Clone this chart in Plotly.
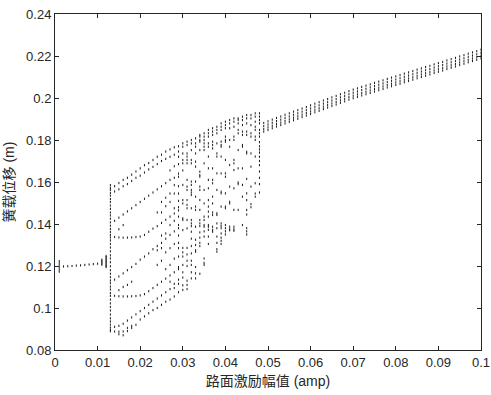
import plotly.graph_objects as go

# ---------------- data ----------------
# single-period branch before the first jump
amp_left = [0.002, 0.003, 0.004, 0.005, 0.006, 0.007, 0.008, 0.009, 0.010]
disp_left = [0.1198, 0.1199, 0.1200, 0.1202, 0.1203, 0.1205, 0.1207, 0.1209, 0.1211]

# columns with many points (transient / jump / chaotic columns)
scatter_columns = {
    0.001: [0.1173, 0.1183, 0.1193, 0.1203, 0.1213, 0.1223],
    0.011: [0.1206, 0.1212, 0.1218, 0.1224, 0.1230],
    0.012: [0.1195, 0.1200, 0.1206, 0.1212, 0.1218, 0.1224, 0.1230, 0.1236, 0.1242, 0.1248],
    0.013: [0.1585, 0.1572, 0.1562, 0.1548, 0.1535, 0.1519, 0.1505, 0.1488, 0.1472, 0.1455,
            0.1441, 0.1425, 0.1408, 0.1392, 0.1376, 0.1362, 0.1348, 0.1336, 0.1322, 0.1305,
            0.1288, 0.1270, 0.1251, 0.1236, 0.1218, 0.1199, 0.1180, 0.1163, 0.1147, 0.1131,
            0.1118, 0.1102, 0.1088, 0.1071, 0.1058, 0.1040, 0.1022, 0.1005, 0.0988, 0.0969,
            0.0951, 0.0936, 0.0921, 0.0907, 0.0896, 0.0889],
    0.029: [0.1770, 0.1745, 0.1720, 0.1685, 0.1640, 0.1625, 0.1580, 0.1545, 0.1510, 0.1480,
            0.1465, 0.1435, 0.1395, 0.1380, 0.1345, 0.1310, 0.1285, 0.1245, 0.1195, 0.1185,
            0.1135, 0.1115, 0.1075],
    0.030: [0.1784, 0.1768, 0.1736, 0.1705, 0.1689, 0.1655, 0.1586, 0.1514, 0.1498, 0.1427,
            0.1419, 0.1371, 0.1286, 0.1265, 0.1245, 0.1205, 0.1170, 0.1145, 0.1108, 0.1086],
    0.031: [0.1792, 0.1776, 0.1736, 0.1721, 0.1705, 0.1689, 0.1610, 0.1578, 0.1562, 0.1514,
            0.1491, 0.1475, 0.1419, 0.1379, 0.1286, 0.1255, 0.1225, 0.1200, 0.1130, 0.1110, 0.1090],
    0.032: [0.1800, 0.1784, 0.1752, 0.1705, 0.1689, 0.1602, 0.1586, 0.1562, 0.1550, 0.1538,
            0.1475, 0.1419, 0.1403, 0.1390, 0.1363, 0.1330, 0.1295, 0.1260, 0.1225, 0.1205,
            0.1170, 0.1141],
    0.033: [0.1808, 0.1784, 0.1768, 0.1736, 0.1697, 0.1673, 0.1602, 0.1530, 0.1483, 0.1467,
            0.1387, 0.1325, 0.1300, 0.1275, 0.1268, 0.1195, 0.1165, 0.1141],
    0.034: [0.1824, 0.1816, 0.1800, 0.1792, 0.1752, 0.1649, 0.1633, 0.1625, 0.1578, 0.1562,
            0.1514, 0.1467, 0.1419, 0.1403, 0.1390, 0.1360, 0.1335, 0.1310, 0.1295, 0.1163],
    0.035: [0.1832, 0.1816, 0.1800, 0.1784, 0.1768, 0.1752, 0.1689, 0.1562, 0.1498, 0.1435,
            0.1419, 0.1387, 0.1395, 0.1365, 0.1340, 0.1236, 0.1215, 0.1205],
    0.036: [0.1848, 0.1832, 0.1816, 0.1784, 0.1768, 0.1721, 0.1665, 0.1610, 0.1570, 0.1514,
            0.1483, 0.1459, 0.1435, 0.1395, 0.1387, 0.1372, 0.1340, 0.1305],
    0.037: [0.1856, 0.1840, 0.1824, 0.1792, 0.1776, 0.1760, 0.1665, 0.1610, 0.1594, 0.1530,
            0.1498, 0.1455, 0.1443, 0.1387, 0.1372, 0.1363],
    0.038: [0.1863, 0.1848, 0.1832, 0.1784, 0.1736, 0.1721, 0.1641, 0.1562, 0.1451, 0.1443,
            0.1403, 0.1380, 0.1340, 0.1310, 0.1280, 0.1268],
    0.039: [0.1879, 0.1863, 0.1848, 0.1792, 0.1776, 0.1768, 0.1721, 0.1641, 0.1554, 0.1546,
            0.1483, 0.1403, 0.1391, 0.1380, 0.1355, 0.1335, 0.1320, 0.1305],
    0.040: [0.1887, 0.1871, 0.1856, 0.1816, 0.1800, 0.1792, 0.1705, 0.1641, 0.1625, 0.1546,
            0.1483, 0.1475, 0.1395, 0.1380, 0.1365, 0.1350],
    0.041: [0.1895, 0.1879, 0.1856, 0.1800, 0.1768, 0.1681, 0.1578, 0.1506, 0.1498, 0.1387,
            0.1375, 0.1370],
    0.042: [0.1903, 0.1887, 0.1863, 0.1816, 0.1800, 0.1705, 0.1689, 0.1657, 0.1570, 0.1467,
            0.1387, 0.1375, 0.1368],
    0.043: [0.1903, 0.1895, 0.1879, 0.1848, 0.1832, 0.1752, 0.1665, 0.1598, 0.1590, 0.1467],
    0.044: [0.1911, 0.1895, 0.1871, 0.1840, 0.1824, 0.1776, 0.1768, 0.1665, 0.1586, 0.1530, 0.1395],
    0.045: [0.1919, 0.1903, 0.1879, 0.1840, 0.1824, 0.1744, 0.1736, 0.1615, 0.1546, 0.1514,
            0.1467, 0.1445, 0.1380, 0.1365, 0.1350],
    0.046: [0.1919, 0.1903, 0.1871, 0.1832, 0.1816, 0.1736, 0.1673, 0.1578, 0.1495, 0.1480],
    0.047: [0.1927, 0.1911, 0.1887, 0.1863, 0.1848, 0.1816, 0.1800, 0.1721, 0.1594, 0.1545,
            0.1530],
    0.048: [0.1927, 0.1911, 0.1895, 0.1879, 0.1848, 0.1832, 0.1816, 0.1790, 0.1770, 0.1755,
            0.1740, 0.1720, 0.1700, 0.1680, 0.1650, 0.1620, 0.1590, 0.1550],
}

# period-doubled branches between the jump and the chaotic zone
amp_branch = [0.014, 0.015, 0.016, 0.017, 0.018, 0.019, 0.020, 0.021,
              0.022, 0.023, 0.024, 0.025, 0.026, 0.027, 0.028]
branch_t1 = [0.1580, 0.1595, 0.1610, 0.1620, 0.1635, 0.1650, 0.1665, 0.1680,
             0.1690, 0.1705, 0.1720, 0.1730, 0.1745, 0.1755, 0.1765]
branch_t2 = [0.1555, 0.1565, 0.1580, 0.1590, 0.1605, 0.1620, 0.1630, 0.1645,
             0.1660, 0.1672, 0.1685, 0.1700, 0.1710, 0.1720, 0.1730]
branch_a = [0.1415, 0.1430, 0.1445, 0.1460, 0.1475, 0.1490, 0.1505, 0.1520,
            0.1535, 0.1550, 0.1565, 0.1580, 0.1595, 0.1610, 0.1620]
branch_b = [0.1338, 0.1336, 0.1335, 0.1335, 0.1336, 0.1338, 0.1340, 0.1348,
            0.1363, 0.1378, 0.1390, 0.1405, 0.1420, 0.1435, 0.1450]
branch_c = [0.1135, 0.1150, 0.1165, 0.1180, 0.1195, 0.1210, 0.1230, 0.1245,
            0.1260, 0.1280, 0.1295, 0.1310, 0.1330, 0.1348, 0.1365]
branch_d = [0.1058, 0.1056, 0.1055, 0.1055, 0.1056, 0.1057, 0.1060, 0.1066,
            0.1080, 0.1095, 0.1110, 0.1125, 0.1140, 0.1155, 0.1170]
branch_e = [0.0910, 0.0915, 0.0925, 0.0940, 0.0955, 0.0970, 0.0985, 0.1000,
            0.1015, 0.1030, 0.1045, 0.1060, 0.1075, 0.1090, 0.1115]
branch_f = [0.0888, 0.0887, 0.0888, 0.0890, 0.0905, 0.0920, 0.0945, 0.0960,
            0.0975, 0.0990, 0.1000, 0.1015, 0.1030, 0.1040, 0.1055]

extra_points = {
    0.015: [0.0875, 0.1085, 0.1375],
    0.016: [0.0870, 0.1100, 0.1395],
    0.017: [0.0905, 0.1110],
    0.018: [0.0915, 0.1125],
    0.024: [0.1275, 0.1205, 0.1455],
    0.025: [0.1225, 0.1285, 0.1345, 0.1455, 0.1505],
    0.026: [0.1185, 0.1265, 0.1355, 0.1485, 0.1525],
    0.027: [0.1125, 0.1205, 0.1285, 0.1395, 0.1505, 0.1545, 0.1655],
    0.028: [0.1095, 0.1235, 0.1305, 0.1415, 0.1475, 0.1545, 0.1585, 0.1675],
}

# quasi-periodic band after the chaotic zone
amp_band = [0.049, 0.050, 0.051, 0.052, 0.053, 0.054, 0.055, 0.056, 0.057, 0.058,
            0.059, 0.060, 0.061, 0.062, 0.063, 0.064, 0.065, 0.066, 0.067, 0.068,
            0.069, 0.070, 0.071, 0.072, 0.073, 0.074, 0.075, 0.076, 0.077, 0.078,
            0.079, 0.080, 0.081, 0.082, 0.083, 0.084, 0.085, 0.086, 0.087, 0.088,
            0.089, 0.090, 0.091, 0.092, 0.093, 0.094, 0.095, 0.096, 0.097, 0.098,
            0.099, 0.100]
band_r1 = [0.1840, 0.1848, 0.1856, 0.1864, 0.1871, 0.1879, 0.1886, 0.1894, 0.1901, 0.1909,
           0.1916, 0.1924, 0.1932, 0.1939, 0.1947, 0.1954, 0.1962, 0.1969, 0.1977, 0.1984,
           0.1992, 0.1999, 0.2005, 0.2012, 0.2018, 0.2024, 0.2031, 0.2037, 0.2043, 0.2050,
           0.2056, 0.2062, 0.2068, 0.2075, 0.2081, 0.2087, 0.2094, 0.2100, 0.2106, 0.2112,
           0.2119, 0.2125, 0.2131, 0.2138, 0.2144, 0.2150, 0.2157, 0.2163, 0.2170, 0.2176,
           0.2182, 0.2189]
band_r2 = [0.1852, 0.1860, 0.1868, 0.1876, 0.1883, 0.1891, 0.1898, 0.1906, 0.1913, 0.1921,
           0.1928, 0.1936, 0.1944, 0.1951, 0.1959, 0.1966, 0.1974, 0.1981, 0.1989, 0.1996,
           0.2004, 0.2011, 0.2017, 0.2024, 0.2030, 0.2036, 0.2043, 0.2049, 0.2055, 0.2062,
           0.2068, 0.2074, 0.2080, 0.2087, 0.2093, 0.2099, 0.2106, 0.2112, 0.2118, 0.2124,
           0.2131, 0.2137, 0.2143, 0.2150, 0.2156, 0.2162, 0.2169, 0.2175, 0.2182, 0.2188,
           0.2194, 0.2201]
band_r3 = [0.1866, 0.1874, 0.1882, 0.1890, 0.1897, 0.1905, 0.1912, 0.1920, 0.1927, 0.1935,
           0.1942, 0.1950, 0.1958, 0.1965, 0.1973, 0.1980, 0.1988, 0.1995, 0.2003, 0.2010,
           0.2018, 0.2025, 0.2031, 0.2038, 0.2044, 0.2050, 0.2057, 0.2063, 0.2069, 0.2076,
           0.2082, 0.2088, 0.2094, 0.2101, 0.2107, 0.2113, 0.2120, 0.2126, 0.2132, 0.2138,
           0.2145, 0.2151, 0.2157, 0.2164, 0.2170, 0.2176, 0.2183, 0.2189, 0.2196, 0.2202,
           0.2208, 0.2215]
band_r4 = [0.1881, 0.1889, 0.1897, 0.1905, 0.1912, 0.1920, 0.1927, 0.1935, 0.1942, 0.1950,
           0.1957, 0.1965, 0.1973, 0.1980, 0.1988, 0.1995, 0.2003, 0.2010, 0.2018, 0.2025,
           0.2033, 0.2040, 0.2046, 0.2053, 0.2059, 0.2065, 0.2072, 0.2078, 0.2084, 0.2091,
           0.2097, 0.2103, 0.2109, 0.2116, 0.2122, 0.2128, 0.2135, 0.2141, 0.2147, 0.2153,
           0.2160, 0.2166, 0.2172, 0.2179, 0.2185, 0.2191, 0.2198, 0.2204, 0.2211, 0.2217,
           0.2223, 0.2230]

x_tickvals = [0, 0.01, 0.02, 0.03, 0.04, 0.05, 0.06, 0.07, 0.08, 0.09, 0.1]
x_ticktext = ["0", "0.01", "0.02", "0.03", "0.04", "0.05", "0.06", "0.07", "0.08", "0.09", "0.1"]
y_tickvals = [0.08, 0.10, 0.12, 0.14, 0.16, 0.18, 0.20, 0.22, 0.24]
y_ticktext = ["0.08", "0.1", "0.12", "0.14", "0.16", "0.18", "0.2", "0.22", "0.24"]

x_title = "路面激励幅值 (amp)"
y_title = "簧载位移 (m)"

# ---------------- assemble points ----------------
xs, ys = [], []
xs += amp_left
ys += disp_left
for a, vals in scatter_columns.items():
    xs += [a] * len(vals)
    ys += vals
for br in (branch_t1, branch_t2, branch_a, branch_b, branch_c, branch_d, branch_e, branch_f):
    xs += amp_branch
    ys += br
for a, vals in extra_points.items():
    xs += [a] * len(vals)
    ys += vals
for br in (band_r1, band_r2, band_r3, band_r4):
    xs += amp_band
    ys += br

fig = go.Figure(go.Scatter(
    x=xs, y=ys, mode="markers",
    marker=dict(color="#1a1a1a", size=1.6, symbol="line-ns",
                line=dict(width=1, color="#1a1a1a")),
    hoverinfo="skip", showlegend=False,
))

axis_col = "#262626"
font_lat = "Liberation Sans, Arial, Noto Sans CJK SC, sans-serif"

fig.update_layout(
    width=491, height=395,
    margin=dict(l=55, r=10, t=14, b=45),
    paper_bgcolor="white", plot_bgcolor="white",
    font=dict(family=font_lat, size=13, color=axis_col),
    xaxis=dict(
        range=[0, 0.1], tickvals=x_tickvals, ticktext=x_ticktext, automargin=False,
        showline=True, linecolor=axis_col, linewidth=1, mirror="ticks",
        ticks="inside", ticklen=4, tickcolor=axis_col, showgrid=False, zeroline=False,
        tickfont=dict(size=13, color=axis_col),
        title=dict(text=x_title, font=dict(size=14, color=axis_col), standoff=7),
    ),
    yaxis=dict(
        range=[0.08, 0.24], tickvals=y_tickvals, ticktext=y_ticktext, automargin=False,
        showline=True, linecolor=axis_col, linewidth=1, mirror="ticks",
        ticks="inside", ticklen=4, tickcolor=axis_col, showgrid=False, zeroline=False,
        tickfont=dict(size=13, color=axis_col),
        title=dict(text=y_title, font=dict(size=14, color=axis_col), standoff=8),
    ),
)

fig.write_html("out.html", config={"displayModeBar": False},
               post_script="document.body.style.margin='0';")
